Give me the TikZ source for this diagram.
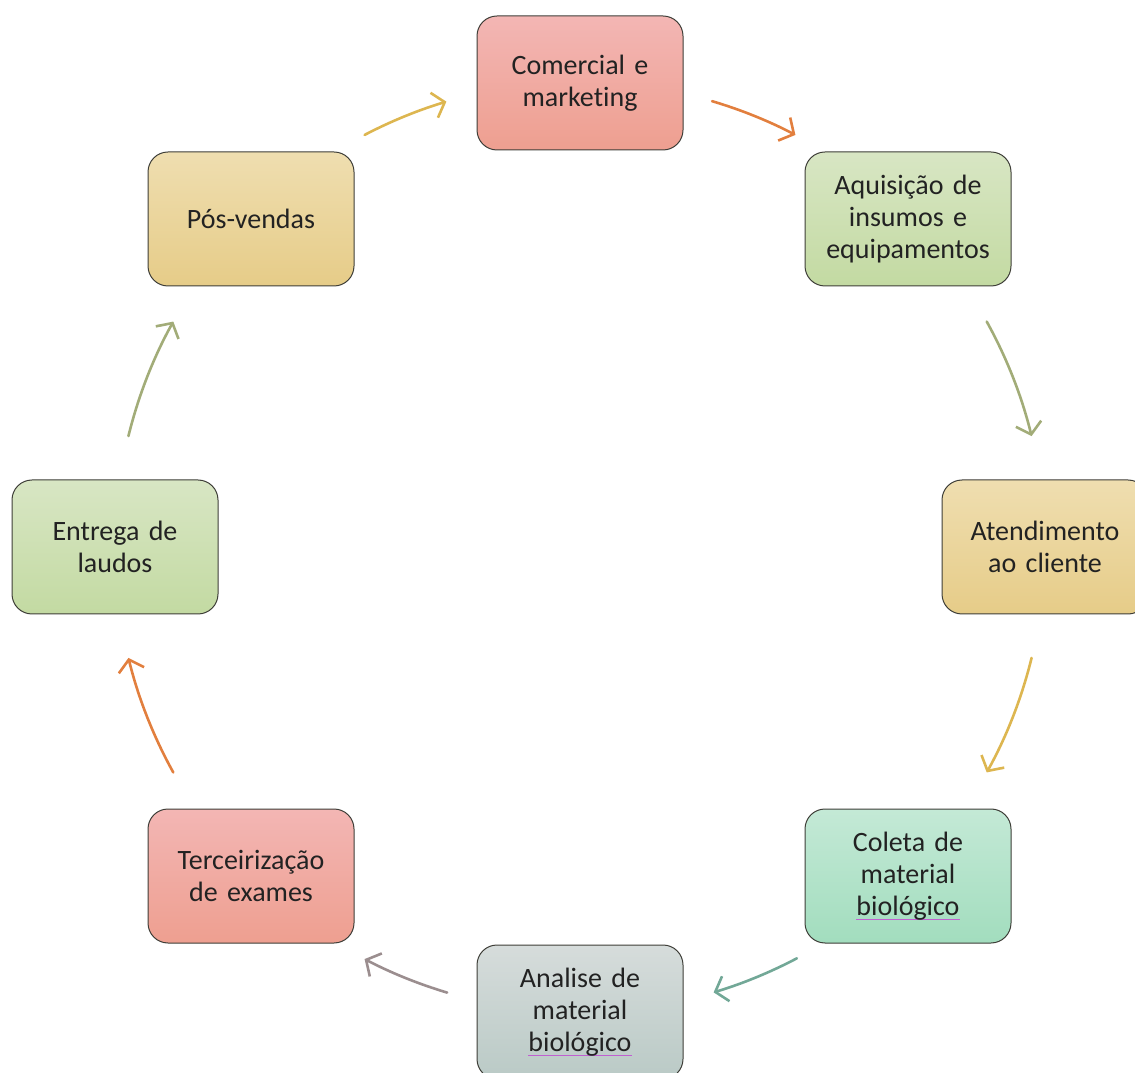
\documentclass[tikz,border=0pt]{standalone}
\usepackage{fontspec}
\setmainfont{Carlito}[Ligatures=NoCommon]
\usetikzlibrary{arrows.meta}

% box fills (top / bottom of each gradient)
\definecolor{redT}{HTML}{F3B6B4}
\definecolor{redB}{HTML}{EE9F90}
\definecolor{grnT}{HTML}{D8E6C4}
\definecolor{grnB}{HTML}{C3DAA2}
\definecolor{yelT}{HTML}{EFDEB0}
\definecolor{yelB}{HTML}{E6CC88}
\definecolor{mntT}{HTML}{C4E9D6}
\definecolor{mntB}{HTML}{A2DDBE}
\definecolor{gryT}{HTML}{D6DCDB}
\definecolor{gryB}{HTML}{BACAC6}
\definecolor{boxedge}{HTML}{3E3E38}
\definecolor{txt}{HTML}{222222}
\definecolor{spellpink}{HTML}{C060D0}
% connector colours
\definecolor{arOrange}{HTML}{E27F3E}
\definecolor{arOlive}{HTML}{A2AC78}
\definecolor{arGold}{HTML}{DDB650}
\definecolor{arTeal}{HTML}{72A897}
\definecolor{arMauve}{HTML}{9B8E8F}

% thin coloured underline under a word
\newcommand\spellmark[1]{\leavevmode\hbox{\setbox0\hbox{#1}\rlap{\color{spellpink}\rule[-5pt]{\wd0}{1.6pt}}\box0}}

\tikzset{
  stepbox/.style={draw=boxedge, line width=1pt, rounded corners=20pt,
    minimum width=206pt, minimum height=134pt, text width=196pt,
    align=center, text=txt, font=\fontsize{28}{32}\selectfont},
  redbox/.style={stepbox, top color=redT, bottom color=redB},
  grnbox/.style={stepbox, top color=grnT, bottom color=grnB},
  yelbox/.style={stepbox, top color=yelT, bottom color=yelB},
  mntbox/.style={stepbox, top color=mntT, bottom color=mntB},
  grybox/.style={stepbox, top color=gryT, bottom color=gryB},
  cyc/.style={line width=2.6pt, line cap=round,
    -{Straight Barb[length=11pt, width=26pt, line width=2.6pt]}},
}

\begin{document}
\begin{tikzpicture}[x=1pt, y=1pt]
\useasboundingbox (0,0) rectangle (1135,1072);
\coordinate (ctr) at (580,525);

\node[redbox] (com) at (580,989) {Comercial e\\marketing};
\node[grnbox] (aqu) at (908,853) {Aquisição de\\insumos e\\equipamentos};
\node[yelbox] (ate) at (1045,525) {Atendimento\\ao cliente};
\node[mntbox] (col) at (908,196) {Coleta de\\material\\\spellmark{biológico}};
\node[grybox] (ana) at (580,60) {Analise de\\material\\\spellmark{biológico}};
\node[redbox] (ter) at (251,196) {Terceirização\\de exames};
\node[grnbox] (ent) at (115,525) {Entrega de\\laudos};
\node[yelbox] (pos) at (251,853) {Pós-vendas};

% cycle arrows along a circle around the centre
\def\rad{465}
\draw[cyc, arOrange] (ctr) ++(73.5:\rad) arc[start angle=73.5, end angle=62.4, radius=\rad];
\draw[cyc, arOlive]  (ctr) ++(29:\rad) arc[start angle=29, end angle=13.8, radius=\rad];
\draw[cyc, arGold]   (ctr) ++(-13.8:\rad) arc[start angle=-13.8, end angle=-29, radius=\rad];
\draw[cyc, arTeal]   (ctr) ++(-62.2:\rad) arc[start angle=-62.2, end angle=-73.3, radius=\rad];
\draw[cyc, arMauve]  (ctr) ++(-106.6:\rad) arc[start angle=-106.6, end angle=-117.6, radius=\rad];
\draw[cyc, arOrange] (ctr) ++(-151:\rad) arc[start angle=-151, end angle=-166.2, radius=\rad];
\draw[cyc, arOlive]  (ctr) ++(166.2:\rad) arc[start angle=166.2, end angle=151, radius=\rad];
\draw[cyc, arGold]   (ctr) ++(117.6:\rad) arc[start angle=117.6, end angle=106.7, radius=\rad];
\end{tikzpicture}
\end{document}
